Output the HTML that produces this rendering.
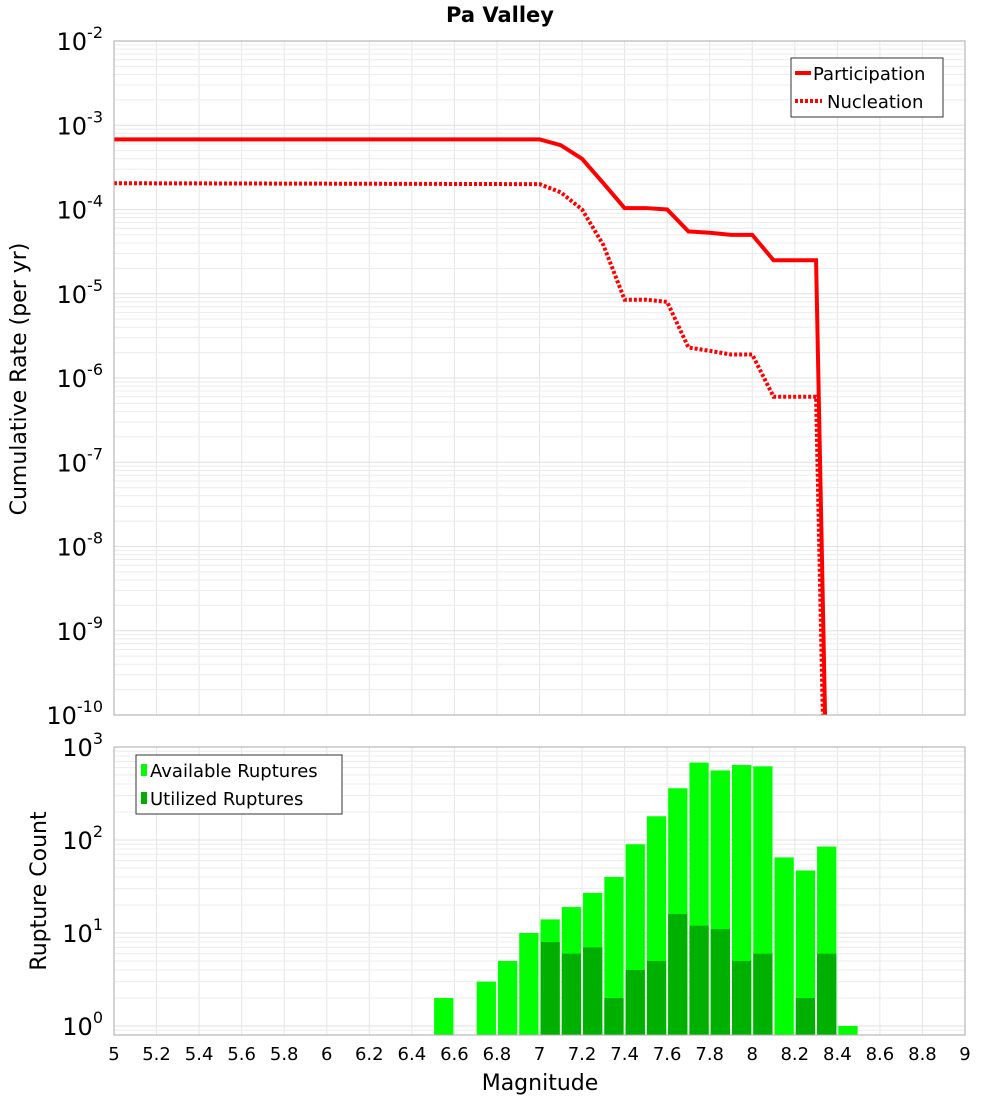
<!DOCTYPE html>
<html><head><meta charset="utf-8"><style>
body{margin:0;background:#fff;font-family:"Liberation Sans","DejaVu Sans",sans-serif;}
svg text{font-family:"DejaVu Sans","Liberation Sans",sans-serif;}
</style></head><body>
<svg id="chart" width="1000" height="1100" xmlns="http://www.w3.org/2000/svg">
<text x="500" y="22" text-anchor="middle" font-size="21" font-weight="bold">Pa Valley</text>
<g id="topPlot"></g>
<g id="botPlot"></g>
<text transform="translate(26,379) rotate(-90)" text-anchor="middle" font-size="22">Cumulative Rate (per yr)</text>
<text transform="translate(46,891) rotate(-90)" text-anchor="middle" font-size="22">Rupture Count</text>
<text x="540" y="1090" text-anchor="middle" font-size="22">Magnitude</text>
</svg>
<script>
const partMags=[5,7.0,7.1,7.2,7.3,7.4,7.5,7.6,7.7,7.8,7.9,8.0,8.1,8.2,8.3,8.35];
const partVals=[6.8e-4,6.8e-4,5.8e-4,4.0e-4,2.05e-4,1.04e-4,1.04e-4,1.0e-4,5.5e-5,5.3e-5,5.0e-5,5.0e-5,2.5e-5,2.5e-5,2.5e-5,1e-11];
const nuclMags=[5,7.0,7.1,7.2,7.3,7.4,7.5,7.6,7.7,7.8,7.9,8.0,8.1,8.2,8.3,8.34];
const nuclVals=[2.05e-4,2.0e-4,1.6e-4,1.0e-4,3.8e-5,8.5e-6,8.5e-6,8.0e-6,2.3e-6,2.1e-6,1.9e-6,1.9e-6,6.0e-7,6.0e-7,6.0e-7,1e-11];
const binStarts=[6.5,6.7,6.8,6.9,7.0,7.1,7.2,7.3,7.4,7.5,7.6,7.7,7.8,7.9,8.0,8.1,8.2,8.3,8.4];
const availCounts=[2,3,5,10,14,19,27,40,90,180,360,680,560,640,620,65,47,85,1];
const usedCounts=[0,0,0,0,8,6,7,2,4,5,16,12,11,5,6,0,2,6,0];
const xTicks=[5,5.2,5.4,5.6,5.8,6,6.2,6.4,6.6,6.8,7,7.2,7.4,7.6,7.8,8,8.2,8.4,8.6,8.8,9];
const rateExps=[-2,-3,-4,-5,-6,-7,-8,-9,-10];
const countExps=[3,2,1,0];

const NS="http://www.w3.org/2000/svg";
const L=114,R=965,T1=41,B1=715,T2=747,B2=1035;
const x=m=>L+(m-5)/4*(R-L);
const y1=v=>T1+(-2-Math.log10(v))*(B1-T1)/8;
const y2=v=>1026-Math.log10(v)*93;
function mk(tag,attrs,parent){const e=document.createElementNS(NS,tag);for(const k in attrs)e.setAttribute(k,attrs[k]);parent.appendChild(e);return e;}
const gTop=document.getElementById('topPlot'),gBot=document.getElementById('botPlot');
const svg=document.getElementById('chart');
function grid(g,T,B,yf,eLo,eHi){
  for(const t of xTicks){const l=mk('line',{x1:x(t),x2:x(t),y1:T,y2:B,stroke:'#e6e6e6','stroke-width':1},g);
  
  }
  for(let e=eLo;e<eHi;e++)for(let k=1;k<10;k++){const yy=yf(k*Math.pow(10,e));if(yy<T||yy>B)continue;
    const l=mk('line',{x1:L,x2:R,y1:yy,y2:yy,stroke:k==1?'#e0e0e0':'#ececec','stroke-width':1},g);
    
    }
}
grid(gTop,T1,B1,y1,-10,-2);
grid(gBot,T2,B2,y2,-1,3);
const defs=mk('defs',{},svg);
const cp=mk('clipPath',{id:'c1'},defs);mk('rect',{x:L,y:T1,width:R-L,height:B1-T1},cp);
function line(mags,vals,dash,name){
  const p=mk('polyline',{points:mags.map((m,i)=>x(m)+','+y1(vals[i])).join(' '),fill:'none',stroke:'#ff0000','stroke-width':4,'clip-path':'url(#c1)'},gTop);
  if(dash)p.setAttribute('stroke-dasharray','3,2');
  
  
}
line(partMags,partVals,false,'participation-line');
line(nuclMags,nuclVals,true,'nucleation-line');
const bw=(x(5.1)-x(5))-2;
binStarts.forEach((m,i)=>{
  const a=availCounts[i];if(a>0){const r=mk('rect',{x:x(m)+1,y:y2(a),width:bw,height:B2-y2(a),fill:'#00ff00'},gBot);
  
  }
  const u=usedCounts[i];if(u>0){const r=mk('rect',{x:x(m)+1,y:y2(u),width:bw,height:B2-y2(u),fill:'#00b000'},gBot);
  
  }
});
for(const [T,B,g] of [[T1,B1,gTop],[T2,B2,gBot]]){const f=mk('rect',{x:L,y:T,width:R-L,height:B-T,fill:'none',stroke:'#aaa','stroke-width':1},g);

}
function ylab(g,e,yy){const t=mk('text',{x:103,y:yy+9,'text-anchor':'end','font-size':24},g);
  t.textContent='10';const s=mk('tspan',{dy:-12,'font-size':16},t);s.textContent=String(e);
  
  }
rateExps.forEach(e=>ylab(gTop,e,y1(Math.pow(10,e))));
countExps.forEach(e=>ylab(gBot,e,y2(Math.pow(10,e))));
xTicks.forEach(t=>{const tx=mk('text',{x:x(t),y:1060,'text-anchor':'middle','font-size':18},svg);tx.textContent=String(t);

});
const lg1=mk('g',{},svg);


mk('rect',{x:791,y:58,width:152,height:59,fill:'#fff',stroke:'#333'},lg1);
mk('line',{x1:795,x2:811,y1:73,y2:73,stroke:'#f00','stroke-width':4},lg1);
mk('line',{x1:795,x2:822,y1:101,y2:101,stroke:'#f00','stroke-width':4,'stroke-dasharray':'3,2'},lg1);
let t=mk('text',{x:813,y:80,'font-size':18},lg1);t.textContent='Participation';
t=mk('text',{x:827,y:108,'font-size':18},lg1);t.textContent='Nucleation';
const lg2=mk('g',{},svg);


mk('rect',{x:136,y:755,width:206,height:59,fill:'#fff',stroke:'#333'},lg2);
mk('rect',{x:141,y:764,width:6,height:12,fill:'#00ff00'},lg2);
mk('rect',{x:141,y:792,width:6,height:12,fill:'#00b000'},lg2);
t=mk('text',{x:150,y:777,'font-size':18},lg2);t.textContent='Available Ruptures';
t=mk('text',{x:150,y:805,'font-size':18},lg2);t.textContent='Utilized Ruptures';
</script>
</body></html>
